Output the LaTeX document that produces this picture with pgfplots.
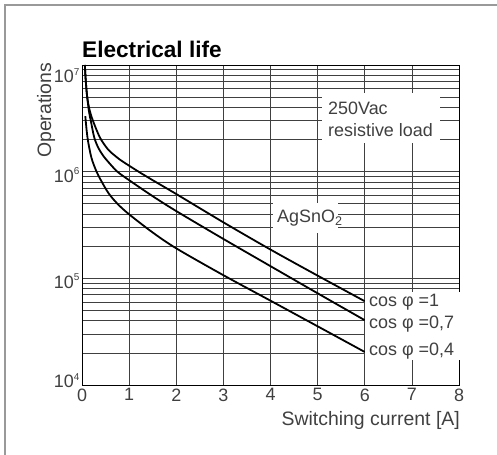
\documentclass[border=0pt]{standalone}
\usepackage{fontspec}
\setmainfont{Liberation Sans}
\usepackage{pgfplots}
\pgfplotsset{compat=1.18}
\newcommand{\tp}[1]{10\raisebox{0.42em}{\fontsize{10}{10}\selectfont #1}}
\begin{document}
\begin{tikzpicture}[x=1bp,y=1bp]
\useasboundingbox (0,0) rectangle (497,455);
\draw[black!40, line width=1.6bp] (5,0) -- (5,450) -- (497,450);
\begin{axis}[
  at={(82bp,70bp)}, anchor=south west,
  scale only axis, width=377bp, height=320bp,
  xmin=0, xmax=8, ymode=log, ymin=1e4, ymax=1e7,
  xtick={0,1,2,3,4,5,6,7,8},
  xticklabels={0,1,2,3,4,5,6,7,8},
  ytick={1e4,1e5,1e6,1e7},
  yticklabels={\raisebox{4bp}[0.75em][0pt]{\tp{4}},\raisebox{-3bp}[0.75em][0pt]{\tp{5}},\raisebox{-4bp}[0.75em][0pt]{\tp{6}},\raisebox{-11bp}[0.75em][0pt]{\tp{7}}},
  xmajorgrids, ymajorgrids, yminorgrids,
  major grid style={black!75, line width=0.75bp},
  minor grid style={black!75, line width=0.75bp},
  major tick length=0pt, minor tick length=0pt,
  axis line style={black, line width=0.9bp},
  tick label style={font=\fontsize{18}{18}\selectfont, text=black!75},
  yticklabel style={xshift=1bp},
]
% cos phi = 1
\addplot[black, line width=1.8bp, smooth] coordinates {
(0.06,1e7) (0.08,7.08e6) (0.11,5.01e6) (0.16,3.80e6) (0.23,3.02e6) (0.38,2.09e6)
(0.55,1.62e6) (0.7,1.41e6) (0.845,1.26e6) (1.2,1.0e6) (1.5,8.32e5) (2.0,6.17e5)
(3.0,3.35e5) (4.0,1.86e5) (5.0,1.06e5) (6.0,6.10e4)};
% cos phi = 0.7
\addplot[black, line width=1.8bp, smooth] coordinates {
(0.06,1e7) (0.08,7.08e6) (0.11,5.01e6) (0.15,3.63e6) (0.19,2.95e6) (0.26,2.09e6)
(0.35,1.66e6) (0.45,1.41e6) (0.56,1.23e6) (0.75,1.0e6) (1.0,8.32e5) (1.5,5.89e5)
(2.0,4.27e5) (3.0,2.34e5) (4.0,1.30e5) (5.0,7.24e4) (6.0,4.05e4)};
% cos phi = 0.4
\addplot[black, line width=1.8bp, smooth] coordinates {
(0.07,3.31e6) (0.1,2.40e6) (0.13,1.91e6) (0.2,1.35e6) (0.3,1.02e6) (0.4,8.32e5)
(0.56,6.31e5) (0.75,5.01e5) (1.0,3.98e5) (1.5,2.69e5) (2.0,1.91e5) (3.0,1.07e5)
(4.0,6.17e4) (5.0,3.55e4) (6.0,2.04e4)};
\end{axis}
% title and axis labels
\node[anchor=base west, inner sep=0, font=\fontsize{22.7}{22.7}\selectfont\bfseries] at (82,397) {Electrical life};
\node[anchor=base west, inner sep=0, rotate=90, text=black!75, font=\fontsize{19.5}{19.5}\selectfont] at (51,297) {Operations};
\node[anchor=base east, inner sep=0, text=black!75, font=\fontsize{19.5}{19.5}\selectfont] at (460,29.5) {Switching current [A]};
% white label boxes
\fill[white] (322,362) rectangle (440,312);
\node[anchor=base west, inner sep=0, text=black!75, font=\fontsize{18}{18}\selectfont] at (328,340) {250Vac};
\node[anchor=base west, inner sep=0, text=black!75, font=\fontsize{18}{18}\selectfont] at (328,318) {resistive load};
\fill[white] (273,252) rectangle (338,222);
\node[anchor=base west, inner sep=0, text=black!75, font=\fontsize{18}{18}\selectfont] at (277,232) {AgSnO\textsubscript{2}};
\fill[white] (365,163) rectangle (462,95);
\node[anchor=base west, inner sep=0, text=black!75, font=\fontsize{18}{18}\selectfont] at (369,148) {cos φ =1};
\node[anchor=base west, inner sep=0, text=black!75, font=\fontsize{18}{18}\selectfont] at (369,126) {cos φ =0,7};
\node[anchor=base west, inner sep=0, text=black!75, font=\fontsize{18}{18}\selectfont] at (369,99) {cos φ =0,4};
\end{tikzpicture}
\end{document}
